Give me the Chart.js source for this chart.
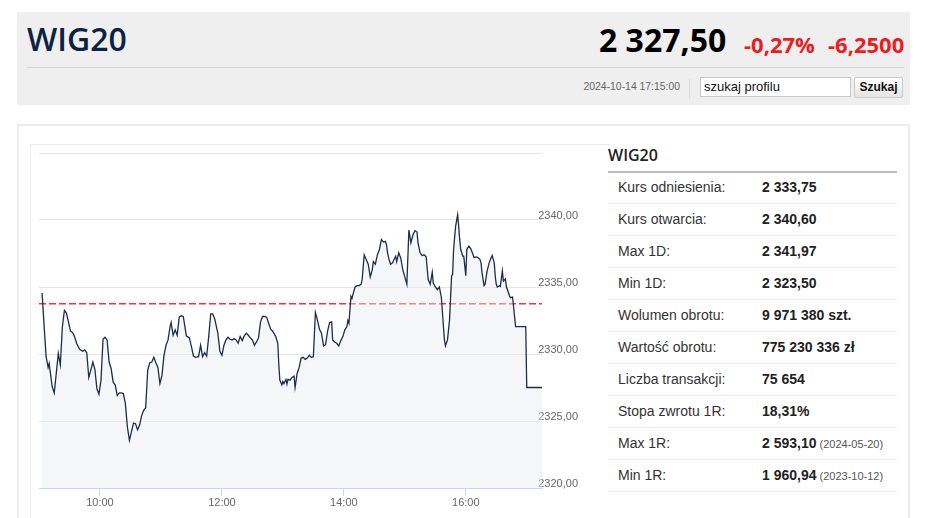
<!DOCTYPE html>
<html lang="pl">
<head>
<meta charset="utf-8">
<script src="https://cdn.jsdelivr.net/npm/chart.js@4.4.0/dist/chart.umd.min.js"></script>
<style>
  html, body { margin:0; padding:0; }
  body { width:948px; height:518px; overflow:hidden; background:#fff; position:relative;
         font-family:'Liberation Sans', Arial, sans-serif; }
  .abs { position:absolute; white-space:nowrap; }
  #hdr { left:17px; top:12px; width:893px; height:93px; background:#efefef; }
  #title { left:27px; top:19px; font:600 32px/40px 'Open Sans', sans-serif; color:#0d2240; }
  #price { left:599px; top:20px; font:700 32px/40px 'Open Sans', sans-serif; color:#000; }
  .red { top:29px; font:700 22px/30px 'Open Sans', sans-serif; color:#ec1c24; }
  #sep { left:27px; top:67px; width:877px; height:1px; background:#d6d6d6; }
  #date { right:268px; top:80px; font:10.4px/14px 'Liberation Sans', Arial, sans-serif; color:#666; }
  #vsep { left:689px; top:79px; width:1px; height:19px; background:#dadada; }
  #search { left:700px; top:77px; width:146px; height:18px; background:#fff; border:1px solid #c8c8c8;
            font:13px/18px 'Liberation Sans', Arial, sans-serif; color:#111; padding-left:3px; box-sizing:content-box; }
  #btn { left:854px; top:77px; width:47px; height:19px; border:1px solid #c9c9c9; border-radius:2px;
         background:linear-gradient(#ffffff,#e4e4e4); font:bold 12px/19px 'Liberation Sans', Arial, sans-serif;
         color:#111; text-align:center; }
  #panel { left:17px; top:124px; width:889px; height:420px; border:2px solid #ececec; }
  #cbox { left:30px; top:144px; width:580px; height:400px; border-top:1px solid #ececec; border-left:1px solid #ececec; }
  #cv { left:30px; top:144px; }
  #thead { left:608px; top:145px; font:600 16px/20px 'Open Sans', sans-serif; color:#222; }
  #tline { left:608px; top:171px; width:289px; height:2px; background:#bdbdbd; }
  .row { left:608px; width:289px; height:31px; border-bottom:1px solid #ebebeb; }
  .lab { position:absolute; left:10px; top:0; font:14px/31px 'Liberation Sans', Arial, sans-serif; color:#333; }
  .val { position:absolute; left:154px; top:0; font:bold 14px/31px 'Liberation Sans', Arial, sans-serif; color:#222; }
  .dt { font-weight:normal; font-size:11px; color:#555; }
</style>
</head>
<body>
<div id="hdr" class="abs"></div>
<div id="title" class="abs">WIG20</div>
<div id="price" class="abs">2 327,50</div>
<div id="chg1" class="abs red" style="left:744px">-0,27%</div>
<div id="chg2" class="abs red" style="left:828px">-6,2500</div>
<div id="sep" class="abs"></div>
<div id="date" class="abs">2024-10-14 17:15:00</div>
<div id="vsep" class="abs"></div>
<div id="search" class="abs">szukaj profilu</div>
<div id="btn" class="abs">Szukaj</div>

<div id="panel" class="abs"></div>
<div id="cbox" class="abs"></div>
<canvas id="cv" class="abs" width="560" height="374"></canvas>

<div id="thead" class="abs">WIG20</div>
<div id="tline" class="abs"></div>
<div id="rows"></div>

<script>
// ---- chart data ----
const times = [
 '09:03','09:07','09:09','09:10','09:13','09:15','09:17','09:19','09:21','09:23','09:25','09:27','09:29','09:31','09:33','09:35','09:37','09:40','09:43','09:45','09:47','09:49','09:51','09:53','09:55','09:57','09:59',
 '10:01','10:03','10:05','10:07','10:09','10:11','10:13','10:15','10:17','10:19','10:21','10:23','10:25','10:27','10:29','10:31','10:33','10:35','10:37','10:39','10:41','10:43','10:45','10:47','10:49','10:51','10:53','10:55','10:57','10:59',
 '11:01','11:03','11:05','11:07','11:09','11:10','11:12','11:14','11:16','11:18','11:20','11:22','11:25','11:28','11:30','11:32','11:34','11:37','11:39','11:41','11:43','11:45','11:47','11:49','11:51','11:53','11:55','11:56','11:58',
 '12:00','12:02','12:04','12:06','12:08','12:10','12:12','12:14','12:16','12:18','12:20','12:22','12:24','12:26','12:28','12:30','12:32','12:34','12:36','12:38','12:40','12:42','12:44','12:46','12:48','12:50','12:53','12:55','12:56','12:57','12:59',
 '13:00','13:01','13:03','13:04','13:05','13:07','13:09','13:11','13:12','13:14','13:16','13:18','13:20','13:22','13:24','13:26','13:28','13:30','13:32','13:34','13:36','13:38','13:40','13:42','13:44','13:46','13:48','13:49','13:51','13:53','13:55','13:57','13:59',
 '14:01','14:03','14:04','14:05','14:07','14:08','14:09','14:11','14:13','14:15','14:17','14:18','14:20','14:22','14:24','14:26','14:28','14:29','14:31','14:33','14:35','14:37','14:39','14:41','14:42','14:43','14:45','14:46','14:48','14:49','14:51','14:52','14:54','14:56','14:58',
 '15:00','15:02','15:04','15:06','15:08','15:10','15:12','15:13','15:15','15:17','15:19','15:21','15:23','15:25','15:27','15:28','15:30','15:32','15:34','15:36','15:38','15:39','15:40','15:42','15:44','15:46','15:47','15:48','15:50','15:52','15:53','15:54','15:55','15:57','15:58',
 '16:00','16:01','16:03','16:05','16:07','16:08','16:10','16:12','16:14','16:15','16:16','16:18','16:19','16:21','16:23','16:25','16:26','16:28','16:29','16:30','16:31','16:33','16:34','16:36','16:37','16:39','16:40','16:41','16:43','16:44','16:46','16:47','16:49','16:59',
 '17:00','17:15'
];
const values = [
 2334.55,2329.8,2329.0,2329.3,2327.55,2327.1,2328.55,2330.05,2329.2,2332.05,2333.25,2333.05,2332.4,2331.7,2331.6,2331.3,2330.8,2330.35,2330.2,2330.3,2330.1,2328.25,2328.8,2329.4,2328.85,2327.4,2327.0,
 2328.05,2331.1,2331.25,2331.05,2329.4,2328.9,2327.9,2327.7,2326.9,2327.1,2327.1,2327.05,2326.3,2324.55,2323.55,2324.2,2324.85,2324.8,2324.35,2324.7,2325.4,2325.8,2326.0,2328.8,2329.35,2329.4,2329.75,2329.35,2329.0,2327.8,
 2328.4,2329.9,2330.65,2331.05,2332.05,2332.35,2331.4,2331.8,2331.4,2332.75,2332.85,2332.8,2331.35,2331.2,2330.55,2329.85,2329.75,2329.8,2330.65,2329.8,2330.1,2329.85,2331.3,2333.0,2333.0,2332.6,2331.9,2331.55,2330.2,
 2329.9,2330.65,2331.05,2331.25,2331.1,2331.05,2331.15,2331.05,2330.8,2331.3,2331.0,2331.35,2331.55,2331.4,2331.2,2331.05,2330.65,2330.9,2331.2,2332.4,2332.8,2332.8,2332.75,2332.3,2331.85,2331.7,2331.3,2330.8,2329.2,2328.05,2327.7,
 2327.95,2327.8,2328.1,2327.75,2328.1,2328.05,2328.25,2328.35,2327.5,2328.55,2329.0,2329.7,2329.75,2329.6,2329.7,2329.9,2329.75,2329.8,2333.1,2332.55,2331.85,2331.55,2330.6,2330.7,2331.7,2332.35,2332.4,2331.05,2330.9,2330.8,2330.6,2331.0,2331.3,
 2331.8,2332.05,2332.5,2332.3,2334.3,2334.15,2334.45,2335.0,2335.1,2335.1,2335.2,2335.55,2337.4,2337.05,2336.7,2335.75,2336.3,2336.9,2336.7,2337.4,2337.8,2338.55,2338.35,2338.4,2338.15,2337.55,2336.9,2336.7,2336.8,2337.0,2337.3,2336.9,2337.55,2337.15,2336.3,
 2335.75,2335.2,2339.25,2338.3,2338.9,2339.2,2339.1,2338.3,2337.55,2337.35,2337.4,2337.25,2335.55,2335.2,2336.1,2335.3,2335.0,2334.8,2335.0,2334.2,2332.05,2331.05,2330.6,2331.05,2332.55,2335.8,2335.95,2337.8,2339.55,2340.4,2339.55,2338.55,2337.8,2337.3,2337.3,
 2335.85,2337.8,2338.05,2337.85,2337.45,2337.2,2337.25,2337.2,2337.05,2336.8,2336.05,2335.1,2335.2,2336.2,2336.8,2337.2,2337.35,2336.8,2335.8,2335.2,2335.0,2335.1,2335.05,2336.2,2335.45,2335.6,2335.0,2334.8,2334.35,2334.2,2334.25,2333.55,2332.05,2332.05,
 2327.5,2327.5
];
const referenceValue = 2333.75;          // Kurs odniesienia (dashed line)
const xTickLabels = ['10:00','12:00','14:00','16:00'];
const sessionStart = '09:00';
const sessionEnd = '17:15';
const yMin = 2320, yMax = 2345, yStep = 5;

// ---- table data ----
const rowLabels = ['Kurs odniesienia:','Kurs otwarcia:','Max 1D:','Min 1D:','Wolumen obrotu:','Wartość obrotu:','Liczba transakcji:','Stopa zwrotu 1R:','Max 1R:','Min 1R:'];
const rowValues = ['2 333,75','2 340,60','2 341,97','2 323,50','9 971 380 szt.','775 230 336 zł','75 654','18,31%','2 593,10','1 960,94'];
const rowDates  = ['','','','','','','','','(2024-05-20)','(2023-10-12)'];

// ---- build table ----
const rowsEl = document.getElementById('rows');
rowLabels.forEach((lab, i) => {
  const r = document.createElement('div');
  r.className = 'abs row';
  r.style.top = (172 + 32.0 * i) + 'px';
  const l = document.createElement('span'); l.className = 'lab'; l.textContent = lab;
  const v = document.createElement('span'); v.className = 'val'; v.textContent = rowValues[i];
  if (rowDates[i]) { const d = document.createElement('span'); d.className = 'dt'; d.textContent = ' ' + rowDates[i]; v.appendChild(d); }
  r.appendChild(l); r.appendChild(v); rowsEl.appendChild(r);
});

// ---- chart ----
const base = sessionStart.split(':').map(Number);
const toMin = t => { const [h, m] = t.split(':').map(Number); return (h - base[0]) * 60 + (m - base[1]); };
const fmtTime = v => { const tot = base[0] * 60 + base[1] + v; const h = Math.floor(tot / 60), m = tot % 60; return String(h).padStart(2,'0') + ':' + String(m).padStart(2,'0'); };
const points = times.map((t, i) => ({ x: toMin(t), y: values[i] }));
const refPoints = [{ x: toMin(sessionStart), y: referenceValue }, { x: toMin(sessionEnd), y: referenceValue }];

Chart.defaults.font.family = "'Liberation Sans', Arial, sans-serif";
Chart.defaults.font.size = 11;
Chart.defaults.color = '#666';

new Chart(document.getElementById('cv'), {
  type: 'line',
  data: {
    datasets: [
      { data: points, borderColor: '#1d2c4b', borderWidth: 1.3, pointRadius: 0, tension: 0,
        fill: 'start', backgroundColor: 'rgba(230,234,240,0.45)', order: 1 },
      { data: refPoints, borderColor: '#ff3030', borderWidth: 1.5, borderDash: [7, 3], pointRadius: 0,
        fill: false, order: 2 }
    ]
  },
  options: {
    responsive: false, animation: false, devicePixelRatio: 1,
    layout: { padding: { left: 9, top: 9, right: 0, bottom: 0 } },
    plugins: { legend: { display: false }, tooltip: { enabled: false } },
    scales: {
      x: {
        type: 'linear', min: toMin(sessionStart), max: toMin(sessionEnd),
        afterBuildTicks: s => { s.ticks = xTickLabels.map(t => ({ value: toMin(t) })); },
        afterFit: s => { s.height = 30; },
        ticks: { callback: v => fmtTime(v), padding: 0, maxRotation: 0, autoSkip: false, color: '#666' },
        grid: { drawOnChartArea: false, drawTicks: true, tickLength: 8, color: '#ccd6eb' },
        border: { display: true, color: '#ccd6eb', width: 1 }
      },
      y: {
        position: 'right', min: yMin, max: yMax,
        afterFit: s => { s.width = 48; s.paddingTop = 0; s.paddingBottom = 0; },
        ticks: { stepSize: yStep, mirror: true, padding: 36, labelOffset: -4, color: '#666',
                 callback: v => v >= yMax ? '' : v.toFixed(2).replace('.', ',') },
        grid: { color: '#e6e6e6', lineWidth: 1, drawTicks: false },
        border: { display: false }
      }
    }
  }
});
</script>
</body>
</html>
